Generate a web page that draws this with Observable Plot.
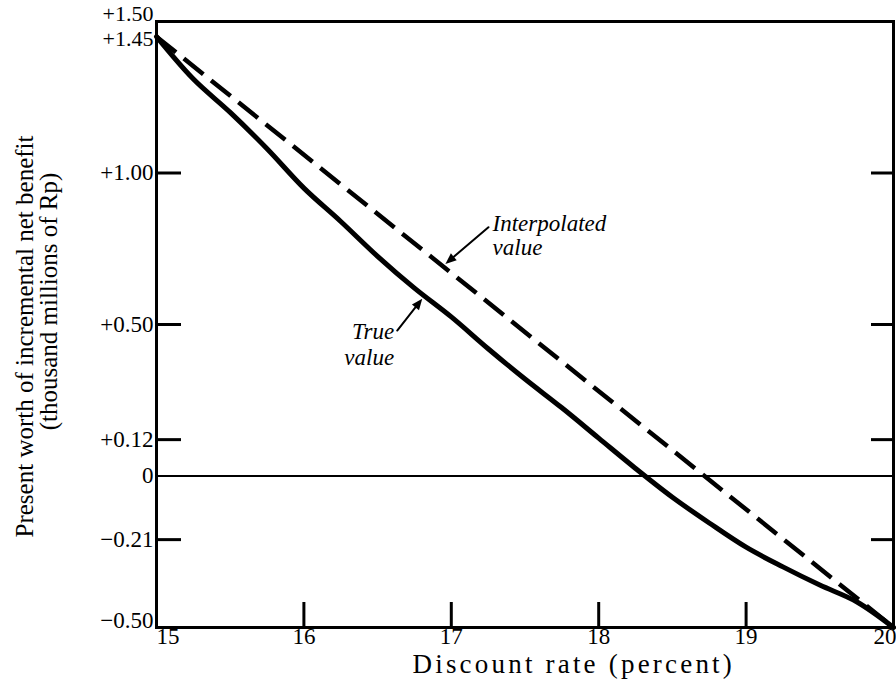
<!DOCTYPE html>
<html>
<head>
<meta charset="utf-8">
<script src="https://cdn.jsdelivr.net/npm/d3@7"></script>
<script src="https://cdn.jsdelivr.net/npm/@observablehq/plot@0.6"></script>
<style>
  html, body { margin: 0; padding: 0; background: #fff; }
  #chart svg { display: block; }
</style>
</head>
<body>
<div id="chart"></div>
<script>
// ---- Data ----
const discountRates = [15, 15.25, 15.5, 15.75, 16, 16.25, 16.5, 16.75, 17, 17.25, 17.5, 17.75, 18, 18.25, 18.5, 18.75, 19, 19.25, 19.5, 19.75, 20];
const trueValues    = [1.45, 1.31, 1.20, 1.08, 0.95, 0.84, 0.725, 0.62, 0.525, 0.42, 0.32, 0.225, 0.125, 0.025, -0.07, -0.155, -0.235, -0.30, -0.36, -0.415, -0.50];

const interpolatedRates  = [15, 20];
const interpolatedValues = [1.45, -0.50];

const yTickValues = [1.50, 1.45, 1.00, 0.50, 0.12, 0, -0.21, -0.50];
const yTickLabels = ["+1.50", "+1.45", "+1.00", "+0.50", "+0.12", "0", "\u22120.21", "\u22120.50"];
const innerTickValues = [1.00, 0.50, 0.12, -0.21];

const xTickValues = [15, 16, 17, 18, 19, 20];
const xTickLabels = ["15", "16", "17", "18", "19", "20"];

const interpLabelX = [17.28, 17.28];
const interpLabelY = [0.833, 0.754];
const interpLabelText = ["Interpolated", "value"];

const trueLabelX = [16.612, 16.612];
const trueLabelY = [0.475, 0.391];
const trueLabelText = ["True", "value"];

const arrowX1 = [17.252, 16.633];
const arrowY1 = [0.821, 0.480];
const arrowX2 = [16.96, 16.803];
const arrowY2 = [0.700, 0.585];

const xTitle = "Discount rate (percent)";
const yTitle1 = "Present worth of incremental net benefit";
const yTitle2 = "(thousand millions of Rp)";

// ---- Tables built from the arrays ----
const trueData = discountRates.map((r, i) => ({rate: r, value: trueValues[i]}));
const interpData = interpolatedRates.map((r, i) => ({rate: r, value: interpolatedValues[i]}));
const yTicks = yTickValues.map((v, i) => ({v, label: yTickLabels[i]}));
const xTicks = xTickValues.map((v, i) => ({v, label: xTickLabels[i]}));
const interpLabels = interpLabelX.map((x, i) => ({x, y: interpLabelY[i], t: interpLabelText[i]}));
const trueLabels = trueLabelX.map((x, i) => ({x, y: trueLabelY[i], t: trueLabelText[i]}));
const arrows = arrowX1.map((x1, i) => ({x1, y1: arrowY1[i], x2: arrowX2[i], y2: arrowY2[i]}));

const serif = "'Liberation Serif', 'DejaVu Serif', serif";
const W = 896, H = 686;
const mL = 156, mR = 3, mT = 21, mB = 59;
const fw = W - mL - mR, fh = H - mT - mB;
const xDomain = [15, 20], yDomain = [-0.5, 1.5];
const kx = fw / (xDomain[1] - xDomain[0]);
const ky = fh / (yDomain[1] - yDomain[0]);
// screen-space direction of each arrow (degrees clockwise from up)
const arrowAngle = d => {
  const dxs = (d.x2 - d.x1) * kx;
  const dys = -(d.y2 - d.y1) * ky;
  return Math.atan2(dxs, -dys) * 180 / Math.PI;
};
const headShape = {
  draw(context, l, r) {
    context.moveTo(0, 0);
    context.lineTo(-4.5, l);
    context.lineTo(4.5, l);
    context.closePath();
  }
};

const yMid = yTicks.filter(d => d.v !== 1.50 && d.v !== 1.45 && d.v !== -0.50);
const y145 = yTicks.filter(d => d.v === 1.45);
const yTop = yTicks.filter(d => d.v === 1.50);
const yBot = yTicks.filter(d => d.v === -0.50);

const plot = Plot.plot({
  width: W,
  height: H,
  marginLeft: mL,
  marginRight: mR,
  marginTop: mT,
  marginBottom: mB,
  x: {type: "linear", domain: xDomain, axis: null},
  y: {type: "linear", domain: yDomain, axis: null},
  style: {fontFamily: serif, background: "white", color: "black", overflow: "visible"},
  marks: [
    // zero line
    Plot.ruleY([0], {stroke: "black", strokeWidth: 2}),
    // inner ticks, left and right
    Plot.tickY(innerTickValues, {y: d => d, stroke: "black", strokeWidth: 3, insetRight: fw - 25}),
    Plot.tickY(innerTickValues, {y: d => d, stroke: "black", strokeWidth: 3, insetLeft: fw - 22}),
    // inner ticks on x axis
    Plot.tickX(xTickValues.filter(v => v > 15 && v < 20), {x: d => d, stroke: "black", strokeWidth: 3, insetTop: fh - 25}),
    // curves
    Plot.line(interpData, {x: "rate", y: "value", stroke: "black", strokeWidth: 4.5, strokeDasharray: "25,10", strokeLinecap: "butt"}),
    Plot.line(trueData, {x: "rate", y: "value", stroke: "black", strokeWidth: 5, curve: "catmull-rom"}),
    // frame
    Plot.frame({stroke: "black", strokeWidth: 3}),
    // y tick labels
    Plot.text(yMid, {y: "v", text: "label", frameAnchor: "left", textAnchor: "end", dx: -3, fontSize: 23, fill: "black"}),
    Plot.text(y145, {y: "v", text: "label", frameAnchor: "left", textAnchor: "end", dx: -3, dy: 2, fontSize: 22, fill: "black"}),
    Plot.text(yTop, {y: "v", text: "label", frameAnchor: "left", textAnchor: "end", dx: -3, dy: -8, fontSize: 22, fill: "black"}),
    Plot.text(yBot, {y: "v", text: "label", frameAnchor: "left", textAnchor: "end", dx: -3, dy: -7, fontSize: 23, fill: "black"}),
    // x tick labels
    Plot.text(xTicks.filter(d => d.v === 15), {x: "v", text: "label", frameAnchor: "bottom", textAnchor: "start", dy: 16, fontSize: 23, fill: "black"}),
    Plot.text(xTicks.filter(d => d.v > 15 && d.v < 20), {x: "v", text: "label", frameAnchor: "bottom", textAnchor: "middle", dy: 16, fontSize: 23, fill: "black"}),
    Plot.text(xTicks.filter(d => d.v === 20), {x: "v", text: "label", frameAnchor: "bottom", textAnchor: "end", dx: 3, dy: 16, fontSize: 23, fill: "black"}),
    // axis titles
    Plot.text([xTitle], {text: d => d, frameAnchor: "bottom-left", textAnchor: "start", dx: 256, dy: 45, fontSize: 27, fill: "black"}),
    Plot.text([yTitle1], {text: d => d, frameAnchor: "left", textAnchor: "middle", rotate: -90, dx: -132, dy: 12, fontSize: 25, fill: "black"}),
    Plot.text([yTitle2], {text: d => d, frameAnchor: "left", textAnchor: "middle", rotate: -90, dx: -108, dy: -23, fontSize: 25, fill: "black"}),
    // annotations
    Plot.text(interpLabels, {x: "x", y: "y", text: "t", textAnchor: "start", fontSize: 23, fontStyle: "italic", fill: "black"}),
    Plot.text(trueLabels, {x: "x", y: "y", text: "t", textAnchor: "end", fontSize: 23, fontStyle: "italic", fill: "black"}),
    Plot.arrow(arrows, {x1: "x1", y1: "y1", x2: "x2", y2: "y2", stroke: "black", strokeWidth: 2, headLength: 0, insetEnd: 6}),
    Plot.vector(arrows, {x: "x2", y: "y2", rotate: arrowAngle, length: 11, anchor: "start", shape: headShape, fill: "black", stroke: "none"})
  ]
});

document.getElementById("chart").appendChild(plot);
plot.querySelectorAll("text").forEach(t => {
  if (t.textContent === xTitle) t.setAttribute("letter-spacing", "3.2");
});
</script>
</body>
</html>
